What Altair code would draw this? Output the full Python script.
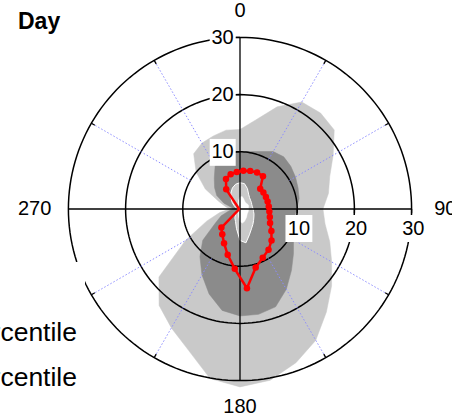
import altair as alt
import numpy as np
import pandas as pd

# Direction bins, degrees clockwise from north
bin_angle = list(range(0, 360, 10))

# Percentile envelopes of the time in days for each direction bin
p95_days = [13.9, 15.8, 19.0, 21.6, 21.9, 21.5, 18.8, 16.7, 15.7, 14.5,
            15.1, 16.7, 18.5, 20.9, 23.5, 26.5, 28.6, 30.4, 31.1, 30.1,
            26.3, 24.0, 22.0, 18.5, 11.0, 6.2, 3.6, 1.8, 2.6, 4.0,
            7.0, 10.0, 12.6, 13.3, 13.6, 14.0]
p75_days = [10.0, 10.2, 10.7, 11.6, 11.9, 11.6, 11.2, 10.8, 10.5, 9.9,
            9.6, 9.7, 10.8, 12.2, 14.0, 16.2, 18.2, 18.7, 18.7, 18.0,
            15.8, 13.3, 10.9, 8.5, 5.0, 3.5, 2.0, 1.2, 1.5, 3.0,
            4.7, 5.8, 7.0, 8.7, 9.5, 9.8]
p25_days = [4.6, 4.5, 3.8, 3.0, 2.6, 2.4, 2.3, 2.2, 2.2, 2.3,
            2.4, 2.6, 2.8, 3.1, 3.5, 4.0, 4.8, 6.0, 5.5, 3.5,
            2.3, 1.8, 1.2, 0.8, 0.6, 0.5, 0.5, 0.5, 0.6, 0.8,
            1.2, 1.8, 2.4, 3.2, 3.9, 4.4]
p05_days = [2.1, 2.2, 1.9, 1.6, 1.5, 1.5, 1.6, 1.6, 1.5, 1.5,
            1.5, 1.5, 1.5, 1.6, 1.8, 2.0, 2.3, 2.5, 2.2, 1.4,
            0.9, 0.6, 0.3, 0.3, 0.3, 0.3, 0.3, 0.3, 0.3, 0.3,
            0.3, 0.3, 0.3, 0.3, 0.8, 1.5]

# Median, one value per bin centre
median_angle = list(range(5, 360, 10))
median_days = [6.7, 6.9, 7.05, 7.0, 5.0, 5.0, 5.0, 5.0, 5.05, 5.15,
               5.4, 5.8, 6.7, 7.8, 8.7, 9.4, 10.6, 13.9, 10.5, 8.3,
               6.6, 5.4, 4.6, 0.4, 0.3, 0.2, 0.2, 0.2, 0.2, 0.3,
               0.4, 0.6, 4.2, 5.8, 6.3, 6.5]

ring_days = [10, 20, 30]
spoke_angle = [30, 60, 120, 150, 210, 240, 300, 330]
compass_labels = ["0", "90", "180", "270"]
compass_angle = [0, 90, 180, 270]

# Plot geometry: pole at (240, 209) px, 30 days = 171.6 px
W, H = 452, 420
CX, CY = 240, 209
K = 171.6 / 30

x_scale = alt.Scale(domain=[-CX / K, (W - CX) / K], nice=False, zero=False)
y_scale = alt.Scale(domain=[-(H - CY) / K, CY / K], nice=False, zero=False)
X = alt.X("x:Q", scale=x_scale, axis=None)
Y = alt.Y("y:Q", scale=y_scale, axis=None)

TO_X = "datum.r * sin(datum.angle * PI / 180)"
TO_Y = "datum.r * cos(datum.angle * PI / 180)"
FONT = "Liberation Sans"


def envelope(values, fill, stroke=None):
    df = pd.DataFrame({"angle": bin_angle, "r": values, "i": range(len(values))})
    return (
        alt.Chart(df)
        .transform_calculate(x=TO_X, y=TO_Y)
        .mark_line(interpolate="linear-closed", fill=fill,
                   stroke=stroke or fill, strokeWidth=1 if stroke else 0.5)
        .encode(x=X, y=Y, order="i:Q")
    )


light_outer = envelope(p95_days, "#c9c9c9")
dark_band = envelope(p75_days, "#8b8b8b")
light_inner = envelope(p25_days, "#c9c9c9", stroke="#ffffff")
white_core = envelope(p05_days, "#ffffff")

# Dotted spokes from 10 to 30 days
spokes = (
    alt.Chart(pd.DataFrame({"angle": spoke_angle}))
    .transform_calculate(
        x="10 * sin(datum.angle * PI / 180)", y="10 * cos(datum.angle * PI / 180)",
        x2="30 * sin(datum.angle * PI / 180)", y2="30 * cos(datum.angle * PI / 180)")
    .mark_rule(color="#8c8cff", strokeWidth=1, strokeDash=[1.5, 2])
    .encode(x=X, y=Y, x2="x2:Q", y2="y2:Q")
)
spoke_ticks = (
    alt.Chart(pd.DataFrame({"angle": spoke_angle}))
    .transform_calculate(
        x="29.3 * sin(datum.angle * PI / 180)", y="29.3 * cos(datum.angle * PI / 180)",
        x2="30 * sin(datum.angle * PI / 180)", y2="30 * cos(datum.angle * PI / 180)")
    .mark_rule(color="black", strokeWidth=1.3)
    .encode(x=X, y=Y, x2="x2:Q", y2="y2:Q")
)

# Range rings
ring_rows = [{"ring": d, "angle": float(a), "r": d}
             for d in ring_days for a in np.arange(0, 360, 2)]
rings = (
    alt.Chart(pd.DataFrame(ring_rows))
    .transform_calculate(x=TO_X, y=TO_Y)
    .mark_line(interpolate="linear-closed", color="black", strokeWidth=1.5)
    .encode(x=X, y=Y, detail="ring:N", order="angle:Q")
)

# Cross-hair axes
outer = max(ring_days)
axes = (
    alt.Chart(pd.DataFrame({"angle": [0, 90]}))
    .transform_calculate(
        x=f"-{outer} * sin(datum.angle * PI / 180)", y=f"-{outer} * cos(datum.angle * PI / 180)",
        x2=f"{outer} * sin(datum.angle * PI / 180)", y2=f"{outer} * cos(datum.angle * PI / 180)")
    .mark_rule(color="black", strokeWidth=1.3)
    .encode(x=X, y=Y, x2="x2:Q", y2="y2:Q")
)
ring_df = pd.DataFrame({"r": ring_days, "label": [str(d) for d in ring_days]})
v_ticks = (
    alt.Chart(ring_df)
    .transform_calculate(x="-0.75", x2="0", y="datum.r", y2="datum.r")
    .mark_rule(color="black", strokeWidth=1.3)
    .encode(x=X, y=Y, x2="x2:Q", y2="y2:Q")
)
h_ticks = (
    alt.Chart(ring_df)
    .transform_calculate(x="datum.r", x2="datum.r", y="0", y2="-0.75")
    .mark_rule(color="black", strokeWidth=1.3)
    .encode(x=X, y=Y, x2="x2:Q", y2="y2:Q")
)

# Ring value labels on white boxes
v_boxes = (
    alt.Chart(ring_df)
    .transform_calculate(x="-5.3", x2="-0.75", y="datum.r - 2.45", y2="datum.r + 2.25")
    .mark_rect(color="white")
    .encode(x=X, y=Y, x2="x2:Q", y2="y2:Q")
)
v_labels = (
    alt.Chart(ring_df)
    .transform_calculate(x="-1.1", y="datum.r - 0.1")
    .mark_text(align="right", baseline="middle", font=FONT, fontSize=20, color="black")
    .encode(x=X, y=Y, text="label:N")
)
h_boxes = (
    alt.Chart(ring_df)
    .transform_calculate(x="datum.r - 2.05", x2="datum.r + 2.65", y="-1.05", y2="-5.77")
    .mark_rect(color="white")
    .encode(x=X, y=Y, x2="x2:Q", y2="y2:Q")
)
h_labels = (
    alt.Chart(ring_df)
    .transform_calculate(x="datum.r + 0.3", y="-3.45")
    .mark_text(align="center", baseline="middle", font=FONT, fontSize=20, color="black")
    .encode(x=X, y=Y, text="label:N")
)

# Compass labels
compass = (
    alt.Chart(pd.DataFrame({"label": compass_labels, "angle": compass_angle}))
    .transform_calculate(r="datum.angle % 180 == 0 ? 34.6 : 35.9")
    .transform_calculate(x=TO_X, y=TO_Y)
    .mark_text(align="center", baseline="middle", font=FONT, fontSize=20, color="black")
    .encode(x=X, y=Y, text="label:N")
)

# Median line with markers
med_df = pd.DataFrame({"angle": median_angle, "r": median_days, "i": range(len(median_days))})
median_line = (
    alt.Chart(med_df)
    .transform_calculate(x=TO_X, y=TO_Y)
    .mark_line(interpolate="linear-closed", color="#ff0000", strokeWidth=2.5)
    .encode(x=X, y=Y, order="i:Q")
)
median_pts = (
    alt.Chart(med_df)
    .transform_filter("datum.r >= 1")
    .transform_calculate(x=TO_X, y=TO_Y)
    .mark_circle(color="#ff0000", opacity=1, size=42)
    .encode(x=X, y=Y)
)

# Legend panel (left) and title
legend_box = alt.Chart(pd.DataFrame({"k": [0]})).mark_rect(color="white").encode(
    x=alt.value(-200), x2=alt.value(85), y=alt.value(262), y2=alt.value(H))
legend_text = (
    alt.Chart(pd.DataFrame({"label": ["25th\u201375th percentile", "5th\u201395th percentile"],
                            "row": [0, 1]}))
    .transform_calculate(py="333 + datum.row * 45")
    .mark_text(align="right", baseline="middle", font=FONT, fontSize=26.5, color="black")
    .encode(x=alt.value(77), y=alt.Y("py:Q", scale=None, axis=None), text="label:N")
)
title = alt.Chart(pd.DataFrame({"label": ["Day"]})).mark_text(
    align="left", baseline="middle", font=FONT, fontSize=23, fontWeight="bold", color="black"
).encode(x=alt.value(18), y=alt.value(22), text="label:N")

chart = alt.layer(
    light_outer, dark_band, light_inner, white_core,
    rings, spokes, spoke_ticks, axes, v_ticks, h_ticks,
    median_line, median_pts,
    v_boxes, h_boxes, v_labels, h_labels, compass,
    legend_box, legend_text, title,
).properties(
    width=W, height=H, padding=0,
    autosize=alt.AutoSizeParams(type="none"),
    background="white",
).configure_view(stroke=None)

chart.save("out.html", embed_options={"renderer": "svg", "actions": False})
